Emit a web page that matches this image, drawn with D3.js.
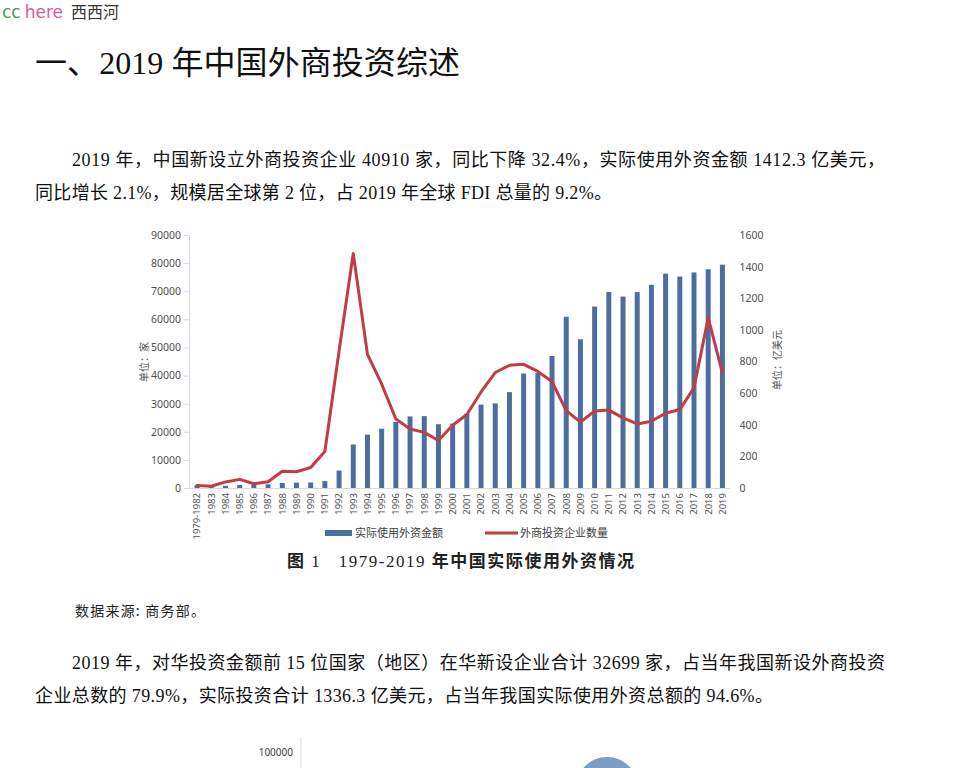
<!DOCTYPE html>
<html lang="zh">
<head>
<meta charset="UTF-8">
<title>2019年中国外商投资综述</title>
<script src="https://cdn.jsdelivr.net/npm/d3@7"></script>
<style>
  html, body { margin: 0; padding: 0; background: #fff; }
  svg { display: block; }
</style>
</head>
<body>
<svg id="page" width="970" height="768"></svg>
<script>
    // 图1 数据：实际使用外资金额（亿美元）与外商投资企业数量（家）
    const categories = ["1979-1982", "1983", "1984", "1985", "1986", "1987", "1988", "1989", "1990",
        "1991", "1992", "1993", "1994", "1995", "1996", "1997", "1998", "1999", "2000", "2001",
        "2002", "2003", "2004", "2005", "2006", "2007", "2008", "2009", "2010", "2011", "2012",
        "2013", "2014", "2015", "2016", "2017", "2018", "2019"];
    const fdiAmount = [17.69, 9.16, 14.19, 19.56, 22.44, 23.14, 31.94, 33.92, 34.87, 43.66,
        110.08, 275.15, 337.67, 375.21, 417.26, 452.57, 454.63, 403.19, 407.15, 468.78,
        527.43, 535.05, 606.30, 724.06, 727.15, 835.21, 1083.12, 940.65, 1147.34, 1239.85,
        1210.73, 1239.11, 1285.02, 1355.77, 1337.11, 1363.15, 1383.06, 1412.25];
    const enterpriseCount = [922, 638, 2166, 3073, 1498, 2233, 5945, 5779, 7273, 12978,
        48764, 83437, 47549, 37011, 24556, 21001, 19799, 16918, 22347, 26140,
        34171, 41081, 43664, 44001, 41473, 37871, 27514, 23435, 27406, 27712,
        24925, 22773, 23778, 26575, 27900, 35652, 60533, 40910];
    const leftTicks = [0, 10000, 20000, 30000, 40000, 50000, 60000, 70000, 80000, 90000];
    const rightTicks = [0, 200, 400, 600, 800, 1000, 1200, 1400, 1600];
    const legendLabels = ["实际使用外资金额", "外商投资企业数量"];

    const barColor = "#4a6e9f";
    const lineColor = "#c23b45";
    const serif = "'Liberation Serif', 'Noto Sans CJK SC', serif";
    const sans = "'Noto Sans', 'Noto Sans CJK SC', sans-serif";

    const svg = d3.select("#page");

    // 页眉
    const logo = svg.append("text").attr("x", 2).attr("y", 18)
        .style("font-family", "'DejaVu Sans', sans-serif").style("font-size", "17px");
    logo.append("tspan").attr("fill", "#4f9a55").text("cc");
    logo.append("tspan").attr("fill", "#dc5a9c").attr("dx", 4).text("here");
    logo.append("tspan").attr("fill", "#333").attr("dx", 8)
        .style("font-family", "'Noto Sans CJK SC', sans-serif").style("font-size", "16px").text("西西河");

    svg.append("text").attr("x", 35).attr("y", 74)
        .attr("textLength", 425).attr("lengthAdjust", "spacing")
        .style("font-family", serif).style("font-size", "32px").attr("fill", "#111")
        .text("一、2019 年中国外商投资综述");

    // 正文段落（每行单独排版）
    const bodyLines = [
        { x: 72, y: 166, w: 813, t: "2019 年，中国新设立外商投资企业 40910 家，同比下降 32.4%，实际使用外资金额 1412.3 亿美元，" },
        { x: 35, y: 199, w: 577, t: "同比增长 2.1%，规模居全球第 2 位，占 2019 年全球 FDI 总量的 9.2%。" },
        { x: 72, y: 669, w: 813, t: "2019 年，对华投资金额前 15 位国家（地区）在华新设企业合计 32699 家，占当年我国新设外商投资" },
        { x: 35, y: 702, w: 738, t: "企业总数的 79.9%，实际投资合计 1336.3 亿美元，占当年我国实际使用外资总额的 94.6%。" }
    ];
    svg.append("g").selectAll("text")
        .data(bodyLines)
        .enter().append("text")
        .attr("x", d => d.x).attr("y", d => d.y)
        .attr("textLength", d => d.w).attr("lengthAdjust", "spacing")
        .style("font-family", serif).style("font-size", "18px").attr("fill", "#111")
        .text(d => d.t);

    svg.append("text").attr("x", 75).attr("y", 616)
        .attr("textLength", 130).attr("lengthAdjust", "spacing")
        .style("font-family", "'Noto Sans CJK SC', sans-serif").style("font-size", "14px").attr("fill", "#222")
        .text("数据来源: 商务部。");

    // 图表
    const plot = { left: 190, right: 729.5, top: 235, bottom: 488 };

    const x = d3.scaleBand().domain(categories).range([plot.left, plot.right]);
    const yLeft = d3.scaleLinear().domain([0, 90000]).range([plot.bottom, plot.top]);
    const yRight = d3.scaleLinear().domain([0, 1600]).range([plot.bottom, plot.top]);
    const barWidth = x.bandwidth() * 0.35;
    const cx = d => x(d) + x.bandwidth() / 2;

    const chart = svg.append("g").style("font-family", sans);

    const leftAxis = chart.append("g")
        .attr("transform", `translate(${plot.left - 1},0)`)
        .call(d3.axisLeft(yLeft).tickValues(leftTicks).tickFormat(d3.format("d")).tickSize(5).tickPadding(3));
    leftAxis.select(".domain").attr("stroke", "#d9d9d9");
    leftAxis.selectAll(".tick line").attr("stroke", "#d9d9d9");
    leftAxis.selectAll("text").attr("fill", "#505050").style("font-size", "10.5px").style("font-family", sans);

    const rightAxis = chart.append("g")
        .attr("transform", `translate(${plot.right},0)`)
        .call(d3.axisRight(yRight).tickValues(rightTicks).tickFormat(d3.format("d")).tickSize(0).tickPadding(10));
    rightAxis.select(".domain").remove();
    rightAxis.selectAll("text").attr("fill", "#505050").style("font-size", "10.5px").style("font-family", sans);

    const xAxis = chart.append("g")
        .attr("transform", `translate(0,${plot.bottom})`)
        .call(d3.axisBottom(x).tickSize(0));
    xAxis.select(".domain").attr("stroke", "#d9d9d9");
    xAxis.selectAll("text")
        .attr("y", 0).attr("x", -5).attr("dy", "0.35em")
        .attr("transform", "rotate(-90)")
        .attr("text-anchor", "end")
        .attr("fill", "#505050").style("font-size", "9.5px").style("font-family", sans);

    chart.append("text")
        .attr("transform", "translate(144,362) rotate(-90)")
        .attr("text-anchor", "middle").attr("dy", "0.35em")
        .attr("fill", "#505050").style("font-size", "10px")
        .text("单位：家");
    chart.append("text")
        .attr("transform", "translate(777,360) rotate(-90)")
        .attr("text-anchor", "middle").attr("dy", "0.35em")
        .attr("fill", "#505050").style("font-size", "10px")
        .text("单位：亿美元");

    chart.append("g").selectAll("rect")
        .data(fdiAmount)
        .enter().append("rect")
        .attr("x", (d, i) => cx(categories[i]) - barWidth / 2)
        .attr("y", d => yRight(d))
        .attr("width", barWidth)
        .attr("height", d => plot.bottom - yRight(d))
        .attr("fill", barColor);

    const line = d3.line()
        .x((d, i) => cx(categories[i]))
        .y(d => yLeft(d));

    chart.append("path")
        .datum(enterpriseCount)
        .attr("d", line)
        .attr("fill", "none")
        .attr("stroke", lineColor)
        .attr("stroke-width", 3)
        .attr("stroke-linejoin", "round")
        .attr("stroke-linecap", "round");

    // 图例
    const legend = chart.append("g").style("font-size", "11px");
    legend.append("rect").attr("x", 325).attr("y", 530).attr("width", 27).attr("height", 6).attr("fill", barColor);
    legend.append("text").attr("x", 355).attr("y", 533).attr("dy", "0.35em").attr("fill", "#404040").text(legendLabels[0]);
    legend.append("line").attr("x1", 485).attr("x2", 518).attr("y1", 533).attr("y2", 533)
        .attr("stroke", lineColor).attr("stroke-width", 3);
    legend.append("text").attr("x", 520).attr("y", 533).attr("dy", "0.35em").attr("fill", "#404040").text(legendLabels[1]);

    // 图题
    const caption = svg.append("text").attr("x", 287).attr("y", 567)
        .attr("textLength", 347).attr("lengthAdjust", "spacing")
        .attr("xml:space", "preserve")
        .style("font-family", serif).style("font-size", "17px").attr("fill", "#222");
    caption.append("tspan").style("font-weight", "bold").text("图");
    caption.append("tspan").text(" 1   1979-2019 ");
    caption.append("tspan").style("font-weight", "bold").text("年中国实际使用外资情况");

    // 下一张图的开头（页面底部被截断）
    svg.append("line").attr("x1", 301).attr("x2", 301).attr("y1", 737).attr("y2", 768)
        .attr("stroke", "#d9d9d9");
    svg.append("text").attr("x", 293).attr("y", 752).attr("dy", "0.35em")
        .attr("text-anchor", "end").attr("fill", "#404040")
        .style("font-family", sans).style("font-size", "10px")
        .text("100000");
    svg.append("circle").attr("cx", 607).attr("cy", 788).attr("r", 31).attr("fill", "#7f9dc4");
</script>
</body>
</html>
